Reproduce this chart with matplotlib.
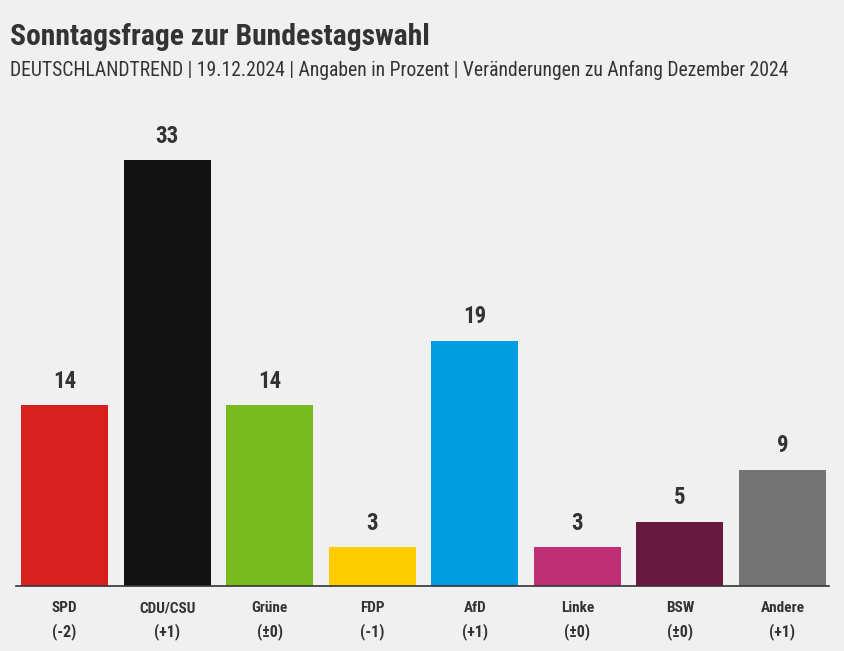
import matplotlib.pyplot as plt
from matplotlib import font_manager

parties = ['SPD', 'CDU/CSU', 'Grüne', 'FDP', 'AfD', 'Linke', 'BSW', 'Andere']
values = [14, 33, 14, 3, 19, 3, 5, 9]
changes = ['(-2)', '(+1)', '(±0)', '(-1)', '(+1)', '(±0)', '(±0)', '(+1)']
colors = ['#d8201f', '#121212', '#79bb1e', '#ffcc00', '#009ee0', '#be3075', '#671940', '#747475']

title = 'Sonntagsfrage zur Bundestagswahl'
subtitle = 'DEUTSCHLANDTREND | 19.12.2024 | Angaben in Prozent | Veränderungen zu Anfang Dezember 2024'

# pick a narrow-ish font if one is there
names = {f.name for f in font_manager.fontManager.ttflist}
font = 'DejaVu Sans'
for cand in ['Roboto Condensed', 'Open Sans Condensed', 'Liberation Sans Narrow', 'Lato']:
    if cand in names:
        font = cand
        break
plt.rcParams['font.family'] = [font, 'DejaVu Sans']

bg = '#f0f0f0'
txt = '#333333'

fig = plt.figure(figsize=(8.45, 6.51), dpi=100, facecolor=bg)
ax = fig.add_axes([16 / 845, 65 / 651, 813 / 845, 486 / 651])
ax.set_facecolor(bg)

x = list(range(len(parties)))
ax.bar(x, values, width=0.848, color=colors, zorder=2)
ax.set_xlim(-0.473, 7.453)
ax.set_ylim(0, 486 / 12.9)

for xi, v in zip(x, values):
    ax.annotate(str(v), (xi, v), xytext=(0, 9), textcoords='offset points',
                ha='center', va='bottom', fontsize=16.5, fontweight='bold', color=txt)

for xi, p, c in zip(x, parties, changes):
    ax.annotate(p, (xi, 0), xytext=(0, -16), textcoords='offset points',
                ha='center', va='center', fontsize=11, fontweight='bold', color=txt)
    ax.annotate(c, (xi, 0), xytext=(0, -33), textcoords='offset points',
                ha='center', va='center', fontsize=11.5, fontweight='bold', color=txt)

for s in ['top', 'right', 'left']:
    ax.spines[s].set_visible(False)
ax.spines['bottom'].set_color(txt)
ax.spines['bottom'].set_linewidth(1.2)
ax.set_xticks([])
ax.set_yticks([])

t1 = fig.text(10 / 845, 1 - 37 / 651, title, fontsize=19,
              fontweight='bold', color=txt, va='center', ha='left')
t2 = fig.text(10 / 845, 1 - 70 / 651, subtitle,
              fontsize=12.5, color=txt, va='center', ha='left')

# scale header texts to the widths seen in the original
renderer = fig.canvas.get_renderer()
for t, target in [(t1, 420), (t2, 780)]:
    w = t.get_window_extent(renderer).width
    t.set_fontsize(min(t.get_fontsize() * target / w, t.get_fontsize() * 1.15))

fig.savefig('out.png', dpi=100, facecolor=bg)
